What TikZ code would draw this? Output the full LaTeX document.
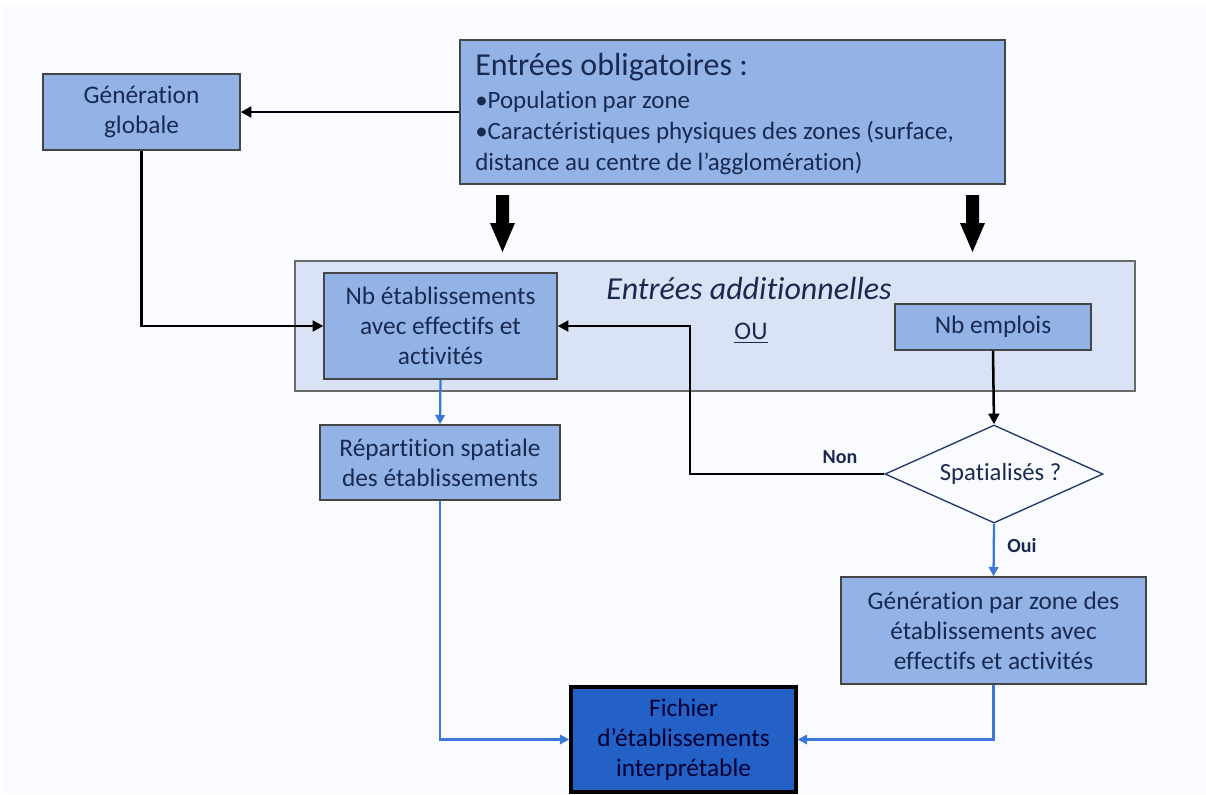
\documentclass[tikz,border=0pt]{standalone}
\usepackage{fontspec}
\setmainfont{Carlito}[Ligatures=NoCommon]
\usetikzlibrary{arrows.meta,shapes.geometric}
\definecolor{bgc}{HTML}{F9FBFE}
\definecolor{boxc}{HTML}{93B3E7}
\definecolor{contc}{HTML}{D9E3F5}
\definecolor{darkc}{HTML}{2461C6}
\definecolor{txtc}{HTML}{1A2950}
\definecolor{linec}{HTML}{3A78D8}
\definecolor{edgec}{HTML}{454545}
\definecolor{diamc}{HTML}{1F3864}
\begin{document}
\begin{tikzpicture}[x=0.75pt,y=-0.75pt,
  box/.style={draw=edgec, line width=1pt, fill=boxc, inner sep=0pt, text=txtc, align=center, font=\fontsize{19}{22.5}\selectfont},
  blk/.style={line width=1.9pt, draw=black, -{Triangle[length=8pt,width=8pt]}},
  blu/.style={line width=1.7pt, draw=linec, -{Triangle[length=7pt,width=7pt]}},
  lbl/.style={text=txtc, font=\fontsize{15}{17}\selectfont\bfseries}]
\useasboundingbox (0,0) rectangle (1206,794);
\fill[bgc] (3,5) rectangle (1206,794);

% boxes
\node[box, minimum width=408.75pt, minimum height=108pt] (oblig) at (732.5,112) {};
\node[anchor=west, text=txtc, font=\fontsize{24}{28}\selectfont, inner sep=0pt] (obltitle) at (475,67) {Entrées obligatoires :};
\node[anchor=west, align=left, text=txtc, font=\fontsize{18.7}{23.25}\selectfont, inner sep=0pt] (oblist) at (475,133)
  {•Population par zone\\•Caractéristiques physiques des zones (surface,\\distance au centre de l’agglomération)};

\node[box, minimum width=147.75pt, minimum height=57pt] (glob) at (141.5,112) {Génération\\globale};

\node[box, fill=contc, draw=edgec!80, minimum width=630pt, minimum height=97.5pt] (cont) at (715,326) {};
\node[text=txtc, font=\fontsize{24}{28}\selectfont\itshape, inner sep=0pt] (addl) at (749,288) {Entrées additionnelles};
\node[box, minimum width=174.75pt, minimum height=79.5pt] (nbet) at (440.5,326) {Nb établissements\\avec effectifs et\\activités};
\node[text=txtc, font=\fontsize{19}{22.5}\selectfont, inner sep=0pt] (ou) at (751,333) {\underline{OU}};
\node[box, minimum width=147pt, minimum height=34.5pt] (emp) at (993,327) {Nb emplois};

\node[diamond, aspect=2.22, draw=diamc, line width=1pt, fill=bgc, minimum width=163.5pt, minimum height=73.5pt, inner sep=0pt, text=txtc, font=\fontsize{18.5}{22}\selectfont] (diam) at (994,474) {\hspace*{10pt}Spatialisés ?};

\node[box, minimum width=180pt, minimum height=56.25pt] (rep) at (440,462.5) {Répartition spatiale\\des établissements};
\node[box, minimum width=228.75pt, minimum height=80.25pt] (genz) at (993.5,630.5) {Génération par zone des\\établissements avec\\effectifs et activités};
\node[box, fill=darkc, draw=black, line width=2.6pt, text=black!80!blue, minimum width=168.75pt, minimum height=78.75pt] (fich) at (683.5,739.5) {Fichier\\d’établissements\\interprétable};

% block arrows
\fill[black] (496,195) -- (509,195) -- (509,223) -- (515,223) -- (502.5,252) -- (490,223) -- (496,223) -- cycle;
\fill[black] (966,195) -- (979,195) -- (979,223) -- (985,223) -- (972.5,252) -- (960,223) -- (966,223) -- cycle;

% connectors
\draw[blk] (oblig.west) -- (glob.east);
\draw[blk] (glob.south) |- (nbet.west);
\draw[blk] (emp.south) -- (diam.north);
\coordinate (nonc) at (690,474);
\draw[blk] (diam.west) -- (nonc) |- (nbet.east);
\node[lbl] (non) at (840,457) {Non};
\draw[blu] (diam.south) -- (genz.north);
\node[lbl] (oui) at (1022,546) {Oui};
\draw[blu] (nbet.south) -- (rep.north);
\draw[blu] (rep.south) |- (fich.west);
\draw[blu] (genz.south) |- (fich.east);
\end{tikzpicture}
\end{document}
